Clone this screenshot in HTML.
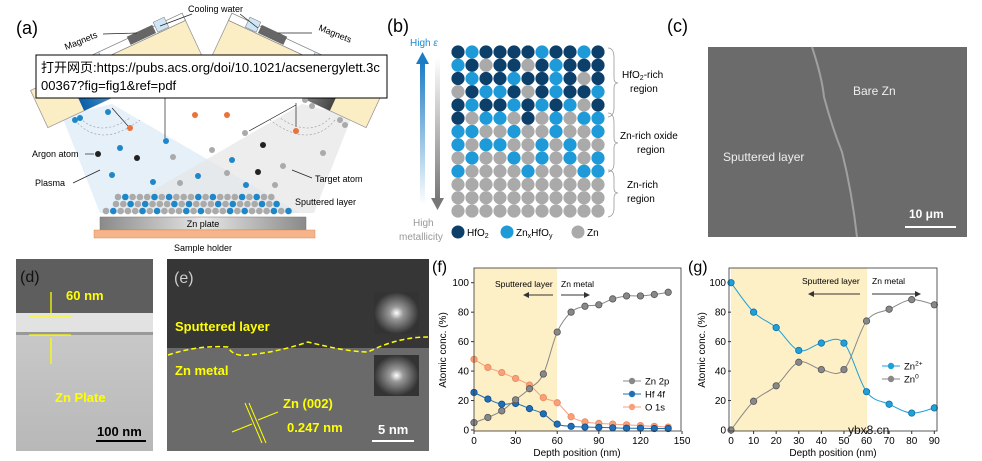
<!DOCTYPE html>
<html><head><meta charset="utf-8"><style>
body{margin:0;background:#fff;}
svg{display:block;font-family:"Liberation Sans","Noto Sans CJK SC",sans-serif;}
</style></head><body>
<svg id="s" width="982" height="461" viewBox="0 0 982 461" xmlns="http://www.w3.org/2000/svg">
<defs>
<linearGradient id="bt" x1="0" x2="1"><stop offset="0" stop-color="#0a5fa8"/><stop offset="1" stop-color="#8ec7ee"/></linearGradient>
<linearGradient id="gt" x1="0" x2="1"><stop offset="0" stop-color="#444"/><stop offset="1" stop-color="#ddd"/></linearGradient>
<linearGradient id="zp" x1="0" x2="1"><stop offset="0" stop-color="#8a8a8a"/><stop offset="0.5" stop-color="#e6e6e6"/><stop offset="1" stop-color="#8a8a8a"/></linearGradient>
<linearGradient id="ua" x1="0" y1="1" x2="0" y2="0"><stop offset="0" stop-color="#fff"/><stop offset="1" stop-color="#1a7cc4"/></linearGradient>
<linearGradient id="da" x1="0" y1="0" x2="0" y2="1"><stop offset="0" stop-color="#fff"/><stop offset="1" stop-color="#777"/></linearGradient>
<linearGradient id="dg" x1="0" y1="0" x2="0" y2="1"><stop offset="0" stop-color="#c8c8c8"/><stop offset="1" stop-color="#b8b8b8"/></linearGradient>
<radialGradient id="ff"><stop offset="0" stop-color="#fff"/><stop offset="0.3" stop-color="#999"/><stop offset="1" stop-color="#333"/></radialGradient>
</defs>

<!-- (a) -->
<text x="16" y="34" font-size="18">(a)</text>
<polygon points="62,116 112,104 300,213 100,213" fill="#dbe9f5" opacity="0.7"/>
<polygon points="352,116 302,104 114,213 314,213" fill="#e6e6e6" opacity="0.7"/>
<g id="lh" transform="translate(28,85) rotate(-25)">
<rect x="0" y="6" width="170" height="41" fill="#fbeec5" stroke="#999" stroke-width="0.8"/>
<rect x="35" y="0" width="135" height="8" fill="#fff" stroke="#888" stroke-width="0.8"/>
<rect x="60" y="0" width="18" height="8" fill="#cfe6f7" stroke="#888" stroke-width="0.6"/>
<rect x="110" y="-2" width="28" height="9" fill="#666"/>
<rect x="140" y="-4" width="12" height="11" fill="#cfe6f7" stroke="#888" stroke-width="0.6"/>
<rect x="40" y="33" width="70" height="14" fill="url(#bt)"/>
</g>
<g transform="translate(414,0) scale(-1,1)">
<rect x="0" y="6" width="170" height="41" transform="translate(28,85) rotate(-25)" fill="#fbeec5" stroke="#999" stroke-width="0.8"/>
<g transform="translate(28,85) rotate(-25)">
<rect x="35" y="0" width="135" height="8" fill="#fff" stroke="#888" stroke-width="0.8"/>
<rect x="60" y="0" width="18" height="8" fill="#cfe6f7" stroke="#888" stroke-width="0.6"/>
<rect x="110" y="-2" width="28" height="9" fill="#666"/>
<rect x="140" y="-4" width="12" height="11" fill="#cfe6f7" stroke="#888" stroke-width="0.6"/>
<rect x="40" y="33" width="70" height="14" fill="url(#gt)"/>
</g></g>
<text x="188" y="12" font-size="9">Cooling water</text>
<text x="66" y="50" font-size="9" transform="rotate(-22 66 50)">Magnets</text>
<text x="318" y="30" font-size="9" transform="rotate(22 318 30)">Magnets</text>
<g stroke="#222" stroke-width="0.7" fill="none">
<line x1="192" y1="14" x2="160" y2="26"/><line x1="240" y1="14" x2="258" y2="28"/>
<line x1="103" y1="34" x2="137" y2="33"/><line x1="312" y1="33" x2="278" y2="33"/>
<line x1="128" y1="126" x2="112" y2="108"/><line x1="165" y1="96" x2="165" y2="138"/>
<line x1="296" y1="127" x2="296" y2="103"/><line x1="296" y1="105" x2="249" y2="131"/>
<line x1="85" y1="154" x2="94" y2="154"/><line x1="73" y1="183" x2="100" y2="170"/>
<line x1="312" y1="178" x2="292" y2="170"/>
</g>
<g fill="none" stroke="#999" stroke-width="0.6" stroke-dasharray="2,2">
<path d="M80,118 q20,20 50,0"/><path d="M75,120 q25,30 65,0"/><path d="M330,118 q-20,20 -50,0"/><path d="M335,120 q-25,30 -65,0"/>
</g>
<g id="dots"></g>
<text x="32" y="157" font-size="9">Argon atom</text>
<text x="35" y="186" font-size="9">Plasma</text>
<text x="315" y="182" font-size="9">Target atom</text>
<text x="295" y="205" font-size="9">Sputtered layer</text>
<rect x="100" y="217" width="206" height="13" fill="url(#zp)" stroke="#777" stroke-width="0.5"/>
<text x="203" y="227" font-size="9" text-anchor="middle">Zn plate</text>
<rect x="94" y="230" width="221" height="8" fill="#f6b48a" stroke="#d98a5a" stroke-width="0.5"/>
<text x="203" y="251" font-size="9" text-anchor="middle">Sample holder</text>
<rect x="36" y="55" width="351" height="43" fill="#fff" stroke="#000" stroke-width="1"/>
<text x="41" y="72" font-size="13">打开网页:https://pubs.acs.org/doi/10.1021/acsenergylett.3c</text>
<text x="41" y="90" font-size="13">00367?fig=fig1&amp;ref=pdf</text>

<!-- (b) -->
<text x="387" y="32" font-size="18">(b)</text>
<rect x="420" y="62" width="5" height="143" fill="url(#ua)"/>
<polygon points="416,64 429,64 422.5,52" fill="#1a7cc4"/>
<rect x="435" y="58" width="5" height="142" fill="url(#da)"/>
<polygon points="431,198 444,198 437.5,210" fill="#777"/>
<text x="410" y="46" font-size="10" fill="#1a8ad4">High <tspan font-style="italic">ε</tspan></text>
<text x="413" y="226" font-size="10" fill="#999">High</text>
<text x="399" y="240" font-size="10" fill="#999">metallicity</text>
<g id="grid"></g>
<circle cx="458" cy="232" r="6.5" fill="#0d3f6b"/><text x="467" y="236" font-size="10">HfO<tspan font-size="7" dy="2">2</tspan></text>
<circle cx="507" cy="232" r="6.5" fill="#1f9ad8"/><text x="516" y="236" font-size="10">Zn<tspan font-size="7" dy="2">x</tspan><tspan dy="-2">HfO</tspan><tspan font-size="7" dy="2">y</tspan></text>
<circle cx="578" cy="232" r="6.5" fill="#aaa"/><text x="587" y="236" font-size="10">Zn</text>
<g fill="none" stroke="#999" stroke-width="0.8">
<path d="M608,48 q6,0 6,10 v20 q0,5 4,5 q-4,0 -4,5 v20 q0,8 -6,9"/>
<path d="M608,113 q6,0 6,10 v15 q0,5 4,5 q-4,0 -4,5 v15 q0,8 -6,9"/>
<path d="M608,170 q6,0 6,8 v10 q0,5 4,5 q-4,0 -4,5 v10 q0,8 -6,9"/>
</g>
<text x="622" y="78" font-size="10">HfO<tspan font-size="7" dy="2">2</tspan><tspan dy="-2">-rich</tspan></text>
<text x="630" y="92" font-size="10">region</text>
<text x="620" y="139" font-size="10">Zn-rich oxide</text>
<text x="637" y="153" font-size="10">region</text>
<text x="627" y="188" font-size="10">Zn-rich</text>
<text x="627" y="202" font-size="10">region</text>

<!-- (c) -->
<text x="667" y="32" font-size="18">(c)</text>
<rect x="708" y="47" width="259" height="190" fill="#6b6b6b"/>
<path d="M812,47 q10,30 12,50 q8,30 18,55 q10,40 15,85" fill="none" stroke="#a0a0a0" stroke-width="2"/>
<text x="853" y="95" font-size="12" fill="#eee">Bare Zn</text>
<text x="723" y="161" font-size="12" fill="#eee">Sputtered layer</text>
<text x="909" y="218" font-size="12" fill="#fff" font-weight="bold">10 μm</text>
<rect x="905" y="226" width="51" height="2" fill="#fff"/>

<!-- (d) -->
<rect x="16" y="259" width="137" height="54" fill="#5e5e5e"/>
<rect x="16" y="313" width="137" height="20" fill="#e2e2e2"/>
<rect x="16" y="333" width="137" height="118" fill="url(#dg)"/>
<rect x="16" y="332" width="137" height="3" fill="#999"/>
<text x="20" y="282" font-size="16" fill="#111">(d)</text>
<g stroke="#ff0" stroke-width="1.3"><line x1="29" y1="316" x2="71" y2="316"/><line x1="29" y1="335" x2="71" y2="335"/><line x1="51" y1="292" x2="51" y2="313"/><line x1="51" y1="338" x2="51" y2="364"/></g>
<text x="66" y="300" font-size="13" font-weight="bold" fill="#ff0">60 nm</text>
<text x="55" y="402" font-size="13" font-weight="bold" fill="#ff0">Zn Plate</text>
<text x="97" y="436" font-size="13" font-weight="bold" fill="#000">100 nm</text>
<rect x="96" y="440" width="50" height="2" fill="#000"/>

<!-- (e) -->
<rect x="167" y="259" width="262" height="93" fill="#363636"/>
<rect x="167" y="348" width="262" height="103" fill="#6a6a6a"/>
<text x="174" y="283" font-size="16" fill="#ccc">(e)</text>
<text x="175" y="331" font-size="13" font-weight="bold" fill="#ff0">Sputtered layer</text>
<path d="M168,355 q30,-10 60,-8 q5,10 20,8 q30,-3 60,-13 q40,10 60,10 q30,-15 60,-15" fill="none" stroke="#ff0" stroke-width="1.5" stroke-dasharray="5,3"/>
<text x="175" y="375" font-size="13" font-weight="bold" fill="#ff0">Zn metal</text>
<rect x="374" y="292" width="45" height="42" fill="url(#ff)"/>
<rect x="374" y="355" width="45" height="41" fill="url(#ff)"/>
<g stroke="#ff0" stroke-width="1"><line x1="245" y1="403" x2="262" y2="443"/><line x1="249" y1="403" x2="266" y2="443"/><line x1="232" y1="432" x2="252" y2="424"/><line x1="278" y1="412" x2="258" y2="420"/></g>
<text x="283" y="408" font-size="13" font-weight="bold" fill="#ff0">Zn (002)</text>
<text x="287" y="432" font-size="13" font-weight="bold" fill="#ff0">0.247 nm</text>
<text x="378" y="434" font-size="13" font-weight="bold" fill="#fff">5 nm</text>
<rect x="372" y="440" width="42" height="2" fill="#fff"/>

<!-- (f) -->
<text x="432" y="272" font-size="16">(f)</text>
<rect x="474" y="268" width="83" height="163" fill="#fdefc6"/>
<g id="fc"></g>
<rect x="474" y="268" width="207" height="163" fill="none" stroke="#333" stroke-width="0.8"/>
<text x="495" y="287" font-size="8.5">Sputtered layer</text><text x="561" y="287" font-size="8.5">Zn metal</text>
<line x1="527" y1="295" x2="553" y2="295" stroke="#333"/><polygon points="523,295 529,292 529,298" fill="#333"/>
<line x1="561" y1="295" x2="586" y2="295" stroke="#333"/><polygon points="590,295 584,292 584,298" fill="#333"/>
<text x="446" y="350" font-size="10" transform="rotate(-90 446 350)" text-anchor="middle">Atomic conc. (%)</text>
<text x="577" y="456" font-size="10" text-anchor="middle">Depth position (nm)</text>
<!-- (g) -->
<text x="688" y="272" font-size="16">(g)</text>
<rect x="731" y="268" width="136" height="163" fill="#fdefc6"/>
<g id="gc"></g>
<rect x="729" y="268" width="208" height="163" fill="none" stroke="#333" stroke-width="0.8"/>
<text x="802" y="284" font-size="8.5">Sputtered layer</text><text x="872" y="284" font-size="8.5">Zn metal</text>
<line x1="812" y1="294" x2="860" y2="294" stroke="#333"/><polygon points="808,294 814,291 814,297" fill="#333"/>
<line x1="872" y1="294" x2="917" y2="294" stroke="#333"/><polygon points="921,294 915,291 915,297" fill="#333"/>
<text x="705" y="350" font-size="10" transform="rotate(-90 705 350)" text-anchor="middle">Atomic conc. (%)</text>
<text x="833" y="456" font-size="10" text-anchor="middle">Depth position (nm)</text>
<text x="848" y="434" font-size="12" fill="#111">ybx8.cn</text>
</svg>
<script>
var NS="http://www.w3.org/2000/svg";
function el(p,t,a,txt){var e=document.createElementNS(NS,t);for(var k in a)e.setAttribute(k,a[k]);if(txt!=null)e.textContent=txt;p.appendChild(e);return e;}
// dots in (a)
var D=document.getElementById('dots');
var pts={"#e8743a":[[195,115],[130,128],[296,131],[227,115]],"#1f86c8":[[166,141],[120,148],[112,175],[153,182],[198,176],[232,160],[246,185],[108,112],[80,118],[75,120]],"#222":[[98,154],[137,158],[263,145],[258,172]],"#aaa":[[245,133],[173,157],[212,150],[227,173],[180,183],[283,166],[275,185],[323,153],[305,100],[312,106],[340,120],[345,125]]};
for(var c in pts)pts[c].forEach(function(p){el(D,'circle',{cx:p[0],cy:p[1],r:3,fill:c});});
var rows=[[118,272,197],[116,283,204],[106,294,211]];
rows.forEach(function(r,i){var n=0;for(var x=r[0];x<=r[1];x+=7.3){el(D,'circle',{cx:x,cy:r[2],r:3.3,fill:((n+i)%2==0||n%3==0)?'#aaa':'#1f86c8'});n++;}});
// grid (b)
var G=document.getElementById('grid');
var R=["DLDDDDLDDLD","LDGDDGDLDDD","DLDDLDDLDGD","GDLLDGDLDDL","DLDDLDLDLGD","DGLLGDGLGLL","LLGGLGGLGGL","LGLLGGLGLGG","GLGGLGLGLGL","LGGGGLGGGLL","GGGGGGGGGGG","GGGGGGGGGGG","GGGGGGGGGGG"];
var col={D:"#0d3f6b",L:"#1f9ad8",G:"#aaa"};
R.forEach(function(r,i){for(var j=0;j<11;j++)el(G,'circle',{cx:458+j*14,cy:52+i*13.25,r:6.6,fill:col[r[j]]});});
function sm(P){var d="M"+P[0][0]+","+P[0][1];for(var i=0;i<P.length-1;i++){var p0=P[i-1]||P[i],p1=P[i],p2=P[i+1],p3=P[i+2]||p2;var c1=[p1[0]+(p2[0]-p0[0])/6,p1[1]+(p2[1]-p0[1])/6],c2=[p2[0]-(p3[0]-p1[0])/6,p2[1]-(p3[1]-p1[1])/6];d+=" C"+c1+" "+c2+" "+p2;}return d;}
function chart(g,x0,sx,xt,dx,series,leg){
 var Y=function(v){return 430-v*1.473;};
 for(var v=0;v<=100;v+=20){el(g,'line',{x1:x0-3,x2:x0,y1:Y(v),y2:Y(v),stroke:'#333'});el(g,'text',{x:x0-5,y:Y(v)+3.5,'font-size':10,'text-anchor':'end'},v);}
 xt.forEach(function(v){var x=x0+v*sx;el(g,'line',{x1:x,x2:x,y1:431,y2:434,stroke:'#333'});el(g,'text',{x:x,y:444,'font-size':10,'text-anchor':'middle'},v);});
 series.forEach(function(s){var P=s.d.map(function(v,i){return [x0+i*dx*sx,Y(v)];});el(g,'path',{d:sm(P),fill:'none',stroke:s.c,'stroke-width':1});P.forEach(function(p){el(g,'circle',{cx:p[0],cy:p[1],r:3.2,fill:s.c,stroke:s.s,'stroke-width':0.8});});});
 leg.forEach(function(l){el(g,'line',{x1:l.x,x2:l.x+18,y1:l.y,y2:l.y,stroke:l.c});el(g,'circle',{cx:l.x+9,cy:l.y,r:3.2,fill:l.c});var t=el(g,'text',{x:l.x+22,y:l.y+3.5,'font-size':9.5},l.t);if(l.sup){el(t,'tspan',{dy:-4,'font-size':6.5},l.sup);}});
}
chart(document.getElementById('fc'),474,1.387,[0,30,60,90,120,150],10,[
{c:'#f8a07a',s:'#e88a60',d:[48,42.5,39,35,30.5,22,18.5,9,5.5,4.5,4,3.5,3,2.5,2]},
{c:'#1f6fb8',s:'#124e88',d:[25.5,21,17.5,18,14.5,11,4,2.5,2,1.8,1.5,1.2,1.2,1,1]},
{c:'#888',s:'#555',d:[5,8.5,13,20.5,28,38,66.5,80,84,85,89,91,91,92,93.5]}],
[{x:623,y:381,c:'#888',t:'Zn 2p'},{x:623,y:394,c:'#1f6fb8',t:'Hf 4f'},{x:623,y:407,c:'#f8a07a',t:'O 1s'}]);
chart(document.getElementById('gc'),731,2.259,[0,10,20,30,40,50,60,70,80,90],10,[
{c:'#1fa0d8',s:'#0f70a8',d:[100,80,69.5,54,59,59,26,17.5,11.5,15]},
{c:'#888',s:'#555',d:[0,19.5,30,46,41,41,74,82,88.5,85]}],
[{x:882,y:366,c:'#1fa0d8',t:'Zn',sup:'2+'},{x:882,y:379,c:'#888',t:'Zn',sup:'0'}]);
</script>
</body></html>
